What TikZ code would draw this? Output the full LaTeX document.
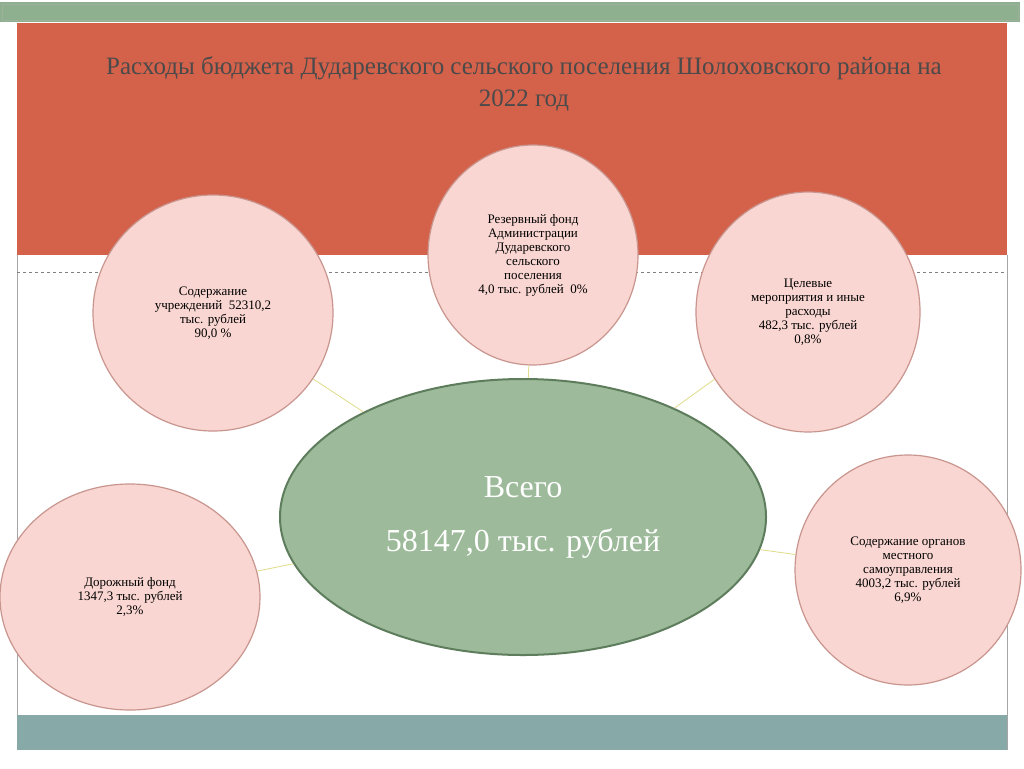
\documentclass[tikz,border=0pt]{standalone}
\usepackage{fontspec}
\setmainfont{Liberation Serif}
\usetikzlibrary{shapes.geometric}
\definecolor{topg}{HTML}{8FB08E}
\definecolor{redb}{HTML}{D4614A}
\definecolor{teal}{HTML}{87A9A8}
\definecolor{pinkf}{HTML}{F9D6D1}
\definecolor{pinkd}{HTML}{C9958F}
\definecolor{cgreen}{HTML}{9DBB9A}
\definecolor{cgreend}{HTML}{5E7D5C}
\definecolor{titc}{HTML}{4A4A4A}
\definecolor{conn}{HTML}{E0DC8A}
\begin{document}
\begin{tikzpicture}[x=1pt,y=-1pt,
  bub/.style={ellipse,draw=pinkd,line width=1.2pt,fill=pinkf,inner sep=0pt,align=center,font=\fontsize{13}{14}\selectfont},
  conline/.style={draw=conn,line width=0.8pt}]
\useasboundingbox (0,0) rectangle (1024,768);
\fill[white] (0,0) rectangle (1024,768);
\fill[topg] (0,2) rectangle (1020,22);
\draw[cgreend!60,line width=0.6pt] (2,4) rectangle (1018,20);
\fill[redb] (17,23) rectangle (1007,255);
\draw[gray!70] (17,255) -- (17,750) (1007,255) -- (1007,750);
\draw[gray,dashed,line width=0.6pt] (17,272) -- (1007,272);
\fill[teal] (17,715) rectangle (1007,750);
\node[text=titc,font=\fontsize{25}{32}\selectfont,align=center] (title) at (524,84) {Расходы бюджета Дударевского сельского поселения Шолоховского района на\\2022 год};
\node[ellipse,draw=cgreend,line width=2pt,fill=cgreen,minimum width=486pt,minimum height=276pt,text=white,align=center,font=\fontsize{32}{54}\selectfont] (c) at (523,517) {Всего\\58147,0 тыс. рублей};
\node[bub,minimum width=240pt,minimum height=236pt] (a) at (213,313) {Содержание\\учреждений \ 52310,2\\тыс. рублей\\90,0 \%};
\node[bub,minimum width=210pt,minimum height=220pt] (b) at (533,255) {Резервный фонд\\Администрации\\Дударевского\\сельского\\поселения\\4,0 тыс. рублей \ 0\%};
\node[bub,minimum width=224pt,minimum height=240pt] (d) at (808,312) {Целевые\\мероприятия и иные\\расходы\\482,3 тыс. рублей\\0,8\%};
\node[bub,minimum width=260pt,minimum height=226pt] (e) at (130,597) {Дорожный фонд\\1347,3 тыс. рублей\\2,3\%};
\node[bub,minimum width=226pt,minimum height=230pt] (f) at (908,570) {Содержание органов\\местного\\самоуправления\\4003,2 тыс. рублей\\6,9\%};
\begin{scope}[on background layer/.try]
\end{scope}
\draw[conline] (c) -- (a);
\draw[conline] (c) -- (b);
\draw[conline] (c) -- (d);
\draw[conline] (c) -- (e);
\draw[conline] (c) -- (f);
\end{tikzpicture}
\end{document}
